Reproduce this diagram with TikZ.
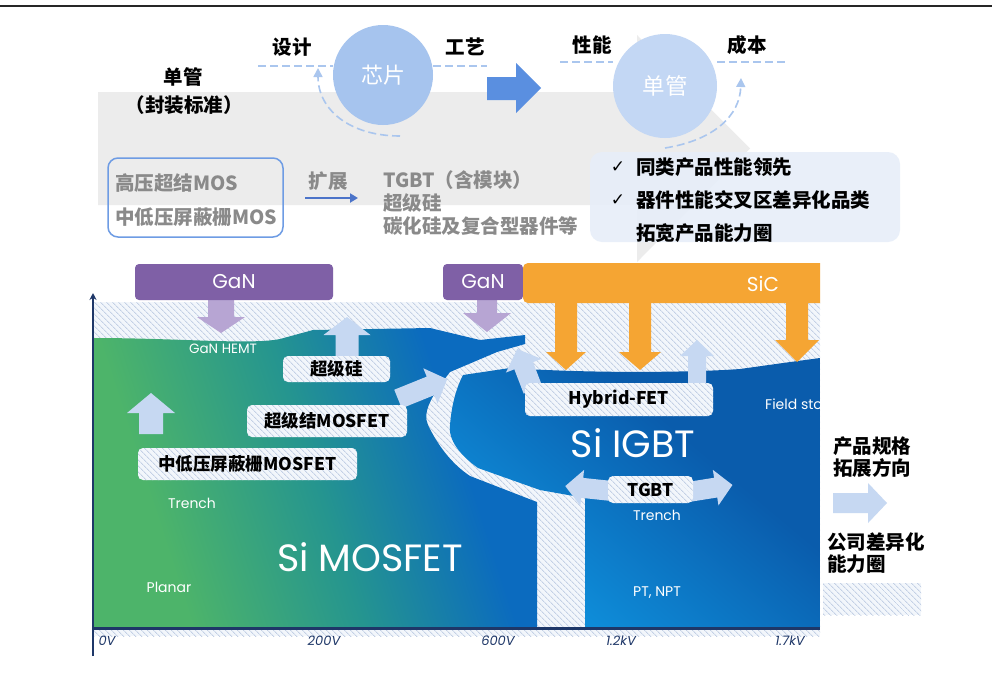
\documentclass[tikz,border=0pt]{standalone}
\usepackage{fontspec}
\usetikzlibrary{patterns.meta,arrows.meta}
\newfontfamily\cjk{Noto Sans CJK SC}
\newfontfamily\pop{Poppins}
\newfontfamily\dvs{DejaVu Sans}
\definecolor{grayarrow}{HTML}{ECECEC}
\definecolor{circA}{HTML}{A6C4EE}
\definecolor{circB}{HTML}{C3D7F4}
\definecolor{dashc}{HTML}{AAC6EE}
\definecolor{bluearrow}{HTML}{5A8FE0}
\definecolor{mosborder}{HTML}{6E9CE4}
\definecolor{graytext}{HTML}{8A8A8A}
\definecolor{kzarrow}{HTML}{4C74C9}
\definecolor{infobg}{HTML}{E7EEF9}
\definecolor{gan}{HTML}{7F60A6}
\definecolor{ganarrow}{HTML}{B7A5D3}
\definecolor{sic}{HTML}{F5A533}
\definecolor{mgreen}{HTML}{4DB46A}
\definecolor{mteal}{HTML}{25958F}
\definecolor{mblue}{HTML}{0B6BBF}
\definecolor{igdark}{HTML}{0A5CAC}
\definecolor{iglight}{HTML}{0E8CD8}
\definecolor{lightarrow}{HTML}{C6D8F2}
\definecolor{axisc}{HTML}{1E3768}
\definecolor{hatchln}{HTML}{C3D0E5}
\definecolor{hatchbg}{HTML}{F2F6FB}
\pgfdeclarehorizontalshading{mosfetsh}{100bp}{color(0bp)=(mgreen); color(30bp)=(mgreen); color(50bp)=(mteal); color(68bp)=(mblue); color(100bp)=(mblue)}
\pgfdeclarehorizontalshading{igbtsh}{100bp}{color(0bp)=(iglight); color(30bp)=(iglight); color(62bp)=(igdark); color(100bp)=(igdark)}
\newcommand\blkarrow[8]{% x y angle length bodyw headw headl color
  \fill[#8, shift={(#1,#2)}, rotate=#3] (0,{-#5/2}) -- ({#4-#7},{-#5/2}) -- ({#4-#7},{-#6/2}) -- (#4,0) -- ({#4-#7},{#6/2}) -- ({#4-#7},{#5/2}) -- (0,{#5/2}) -- cycle;}
\tikzset{
  lbl/.style={font=\cjk\bfseries\fontsize{19.5}{22}\selectfont, inner sep=0pt},
  graytxt/.style={lbl, text=graytext, anchor=west},
  hatchfill/.style={preaction={fill=hatchbg}, pattern={Lines[angle=-45,distance=4pt,line width=0.9pt]}, pattern color=hatchln},
  labelbox/.style={hatchfill, rounded corners=5pt, inner sep=0pt, font=\cjk\bfseries\fontsize{17.5}{20}\selectfont},
  whitetxt/.style={font=\pop\fontsize{14}{16}\selectfont, text=white, inner sep=0pt},
  bigtxt/.style={font=\pop\fontsize{38}{40}\selectfont, text=white, inner sep=0pt},
  axlbl/.style={font=\pop\itshape\fontsize{13}{15}\selectfont, text=axisc, inner sep=0pt},
  dashline/.style={draw=dashc, line width=1.6pt, dash pattern=on 8pt off 4pt},
  boxtxt/.style={font=\pop\fontsize{20}{22}\selectfont, text=white, inner sep=0pt}
}
\begin{document}
\begin{tikzpicture}[x=1pt,y=-1pt]
\useasboundingbox (0,0) rectangle (992,673);
\fill[white] (0,0) rectangle (992,673);
% top rule
\draw[line width=1.5pt, black!85] (0,6) -- (992,6);
% big gray arrow
\fill[grayarrow] (98,92) -- (637,92) -- (637,35) -- (750,148.5) -- (637,262) -- (637,205) -- (98,205) -- cycle;
% circles
\node[circle, fill=circA, minimum size=100pt, inner sep=0pt, font=\cjk\fontsize{22}{24}\selectfont, text=white] (chip) at (383,75) {芯片};
\node[circle, fill=circB, minimum size=104pt, inner sep=0pt, font=\cjk\fontsize{22.5}{24}\selectfont, text=white] (single) at (665,86) {单管};
% dashed lines
\coordinate (d1) at (258,66); \coordinate (d2) at (487,66);
\coordinate (d3) at (560,62); \coordinate (d4) at (787,62);
\draw[dashline] (d1) -- (chip.west|-d1);
\draw[dashline] (chip.east|-d2) -- (d2);
\draw[dashline] (d3) -- (single.west|-d3);
\draw[dashline] (single.east|-d4) -- (d4);
\coordinate (ca) at (400,136); \coordinate (cb) at (318,68);
\draw[dashline, -{Triangle[length=9pt,width=9pt]}] (ca) .. controls (350,136) and (318,110) .. (cb);
\coordinate (sa) at (665,148); \coordinate (sb) at (741,78);
\draw[dashline, -{Triangle[length=9pt,width=9pt]}] (sa) .. controls (715,140) and (740,115) .. (sb);
% solid blue arrow
\fill[bluearrow] (487,77) -- (516,77) -- (516,63) -- (541,88) -- (516,113) -- (516,100) -- (487,100) -- cycle;
% top labels
\node[lbl] (t1) at (292,47) {设计};
\node[lbl] (t2) at (465,47) {工艺};
\node[lbl] (t3) at (592,45) {性能};
\node[lbl] (t4) at (747,45) {成本};
\node[lbl] (t5) at (183,77) {单管};
\node[lbl] (t6) at (184,105) {（封装标准）};
% MOS box
\node[draw=mosborder, line width=1.5pt, rounded corners=10pt, minimum width=175pt, minimum height=79pt, inner sep=0pt] (mosbox) at (195.5,197.5) {};
\node[graytxt] (m1) at (115,183) {高压超结MOS};
\node[graytxt] (m2) at (115,217) {中低压屏蔽栅MOS};
\node[lbl, text=graytext] (kz) at (328,181) {扩展};
\coordinate (k1) at (305,198); \coordinate (k2) at (358,198);
\draw[kzarrow, line width=2pt, -{Triangle[length=8pt,width=9pt]}] (k1) -- (k2);
\node[graytxt] (g1) at (383,180) {TGBT（含模块）};
\node[graytxt] (g2) at (383,203) {超级硅};
\node[graytxt] (g3) at (383,226) {碳化硅及复合型器件等};
% info box
\node[fill=infobg, fill opacity=0.9, rounded corners=12pt, minimum width=310pt, minimum height=90pt, inner sep=0pt] (info) at (745,197) {};
\node[font=\dvs\fontsize{17}{20}\selectfont, inner sep=0pt] (ck1) at (618,167) {✓};
\node[font=\dvs\fontsize{17}{20}\selectfont, inner sep=0pt] (ck2) at (618,200) {✓};
\node[lbl, anchor=west] (i1) at (636,167) {同类产品性能领先};
\node[lbl, anchor=west] (i2) at (636,200) {器件性能交叉区差异化品类};
\node[lbl, anchor=west] (i3) at (636,233) {拓宽产品能力圈};
% ---------------- chart
\path[hatchfill] (93,302) rectangle (820,628);
\path[hatchfill] (93,630) rectangle (820,636);
\begin{scope}
\clip (93,250) rectangle (820,628);
\shade[shading=mosfetsh, shading angle=18]
  (93,338) .. controls (180,338) and (250,345) .. (280,339) -- (313,330) -- (430,328) -- (480,340) -- (525,335) -- (525,344) -- (497,352) -- (450,372)
  .. controls (432,395) and (422,412) .. (428,425) .. controls (440,450) and (455,466) .. (470,476) -- (537,502) -- (537,628) -- (93,628) -- cycle;
\shade[shading=igbtsh, shading angle=50]
  (463,375) -- (510,368) .. controls (600,374) and (700,372) .. (740,369) -- (783,363) -- (820,358) -- (820,628) -- (585,628) -- (585,498) -- (540,490) -- (478,468)
  .. controls (460,455) and (448,440) .. (450,425) .. controls (452,400) and (458,385) .. (463,375) -- cycle;
\node[whitetxt, anchor=west] (fs) at (765,406) {Field stop};
\end{scope}
% region texts
\node[whitetxt, font=\pop\fontsize{13.5}{15}\selectfont] (hemt) at (223,349) {GaN HEMT};
\node[whitetxt] (tr1) at (192,503) {Trench};
\node[whitetxt] (pl) at (169,587) {Planar};
\node[bigtxt] (simos) at (370,557) {Si MOSFET};
\node[bigtxt] (siigbt) at (633,443) {Si IGBT};
\node[whitetxt] (tr2) at (657,515) {Trench};
\node[whitetxt] (pt) at (657,593) {PT, NPT};
% light arrows
\blkarrow{151}{434}{90}{41}{24}{48}{20}{lightarrow}
\blkarrow{347}{358}{90}{41}{23}{47}{18}{lightarrow}
\blkarrow{398}{399}{22}{53}{20}{38}{18}{lightarrow}
\blkarrow{533}{390}{111}{44}{20}{38}{18}{lightarrow}
\blkarrow{697}{385}{90}{45}{18}{34}{16}{lightarrow}
\blkarrow{612}{491}{174}{47}{20}{36}{17}{lightarrow}
\blkarrow{688}{492}{9}{45}{20}{36}{17}{lightarrow}
% GaN / SiC arrows
\blkarrow{221}{298}{-90}{35}{26}{48}{16}{ganarrow}
\blkarrow{487}{298}{-90}{34}{20}{48}{19}{ganarrow}
\blkarrow{566}{300}{-90}{70}{22}{40}{18}{sic}
\blkarrow{640}{300}{-90}{70}{22}{42}{18}{sic}
\blkarrow{797}{300}{-90}{62}{22}{44}{22}{sic}
% GaN / SiC boxes
\node[fill=gan, rounded corners=4pt, minimum width=198pt, minimum height=36pt, inner sep=0pt, boxtxt] (gan1) at (234,282) {GaN};
\node[fill=gan, rounded corners=4pt, minimum width=80pt, minimum height=36pt, inner sep=0pt, boxtxt] (gan2) at (483,282) {GaN};
\begin{scope}
\clip (500,250) rectangle (820,320);
\fill[sic, rounded corners=5pt] (523,263) rectangle (840,303);
\end{scope}
\node[boxtxt] (sictxt) at (763,284) {SiC};
% label boxes
\node[labelbox, minimum width=107pt, minimum height=26pt] (supsi) at (336.5,369) {超级硅};
\node[labelbox, minimum width=160pt, minimum height=32pt] (sj) at (327,421) {超级结MOSFET};
\node[labelbox, minimum width=219pt, minimum height=32pt] (sg) at (247.5,464) {中低压屏蔽栅MOSFET};
\node[labelbox, minimum width=188pt, minimum height=33pt] (hyb) at (619,399.5) {Hybrid-FET};
\node[labelbox, minimum width=85pt, minimum height=27pt] (tgbt) at (650.5,489.5) {TGBT};
% axes
\coordinate (o) at (93,628); \coordinate (ytop) at (93,293); \coordinate (ybot) at (93,656); \coordinate (xend) at (820,628);
\draw[axisc, line width=2.5pt, -{Stealth[length=7pt,width=7pt]}] (ybot) -- (ytop);
\draw[axisc, line width=3pt] (o) -- (xend);
\node[axlbl] (a0) at (107,641) {0V};
\node[axlbl] (a1) at (324,641) {200V};
\node[axlbl] (a2) at (498,641) {600V};
\node[axlbl] (a3) at (621,641) {1.2kV};
\node[axlbl] (a4) at (790,641) {1.7kV};
% legend
\node[lbl, anchor=west] (l1) at (833,446) {产品规格};
\node[lbl, anchor=west] (l2) at (833,468) {拓展方向};
\blkarrow{833}{503}{0}{54}{20}{40}{19}{lightarrow}
\node[lbl, anchor=west] (l3) at (827,542) {公司差异化};
\node[lbl, anchor=west] (l4) at (827,564) {能力圈};
\path[hatchfill] (823,583) rectangle (921,615);
\end{tikzpicture}
\end{document}
